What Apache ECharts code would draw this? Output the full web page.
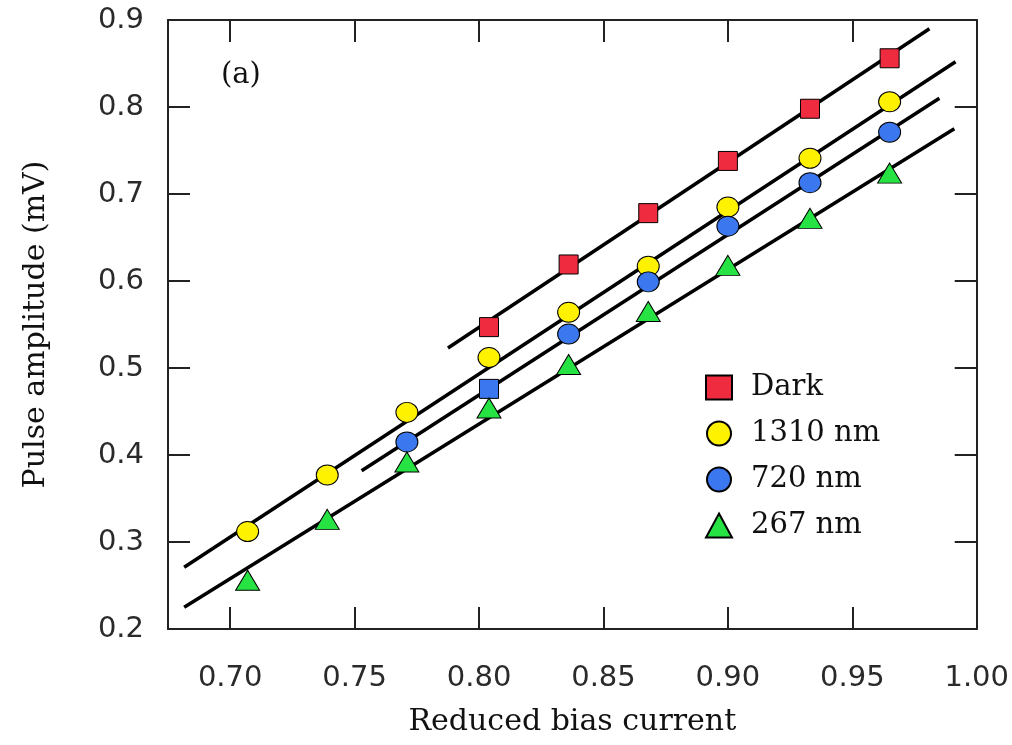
<!DOCTYPE html>
<html>
<head>
<meta charset="utf-8">
<script src="https://cdn.jsdelivr.net/npm/echarts@6/dist/echarts.min.js"></script>
<style>
html,body{margin:0;padding:0;background:#fff;}
#chart{width:1012px;height:745px;}
</style>
</head>
<body>
<div id="chart"></div>
<script>
// ---- data ----
var biasX = [0.707, 0.739, 0.771, 0.804, 0.836, 0.868, 0.900, 0.933, 0.965];
var darkY = [null, null, null, 0.547, 0.619, 0.678, 0.738, 0.798, 0.856];
var nm1310Y = [0.312, 0.377, 0.449, 0.512, 0.564, 0.617, 0.685, 0.741, 0.806];
var nm720Y = [null, null, 0.415, 0.476, 0.539, 0.599, 0.663, 0.713, 0.771];
var nm267Y = [0.256, 0.326, 0.392, 0.454, 0.504, 0.565, 0.618, 0.672, 0.724];
// fitted straight lines (end points in data units)
var fitDark = [[0.7875, 0.523], [0.981, 0.890]];
var fit1310 = [[0.6815, 0.271], [0.9915, 0.852]];
var fit720 = [[0.7528, 0.382], [0.985, 0.810]];
var fit267 = [[0.6815, 0.225], [0.991, 0.775]];
var seriesNames = ['Dark', '1310 nm', '720 nm', '267 nm'];
var xTicks = [0.70, 0.75, 0.80, 0.85, 0.90, 0.95, 1.00];
var yTicks = [0.2, 0.3, 0.4, 0.5, 0.6, 0.7, 0.8, 0.9];
var blueSquareIndex = 3; // the 720 nm point at 0.804 is drawn as a square in the reference

function pts(ys, squareIdx) {
  var out = [];
  for (var i = 0; i < biasX.length; i++) {
    if (ys[i] == null) continue;
    if (i === squareIdx) out.push({value: [biasX[i], ys[i]], symbol: 'rect', symbolSize: 19});
    else out.push([biasX[i], ys[i]]);
  }
  return out;
}

var chart = echarts.init(document.getElementById('chart'), null, {renderer: 'canvas'});
var axisCol = '#222';
var sansFont = 'DejaVu Sans';
var serifFont = 'DejaVu Serif';

function lineSeries(d) {
  return {type: 'line', data: d, xAxisIndex: 0, yAxisIndex: 0, symbol: 'none', silent: true,
    lineStyle: {color: '#000', width: 3.5}, z: 2, animation: false};
}
function scatter(name, data, symbol, size, color) {
  return {type: 'scatter', name: name, data: data, symbol: symbol, symbolSize: size,
    itemStyle: {color: color, borderColor: '#000', borderWidth: 1, opacity: 1}, z: 5, animation: false};
}

var option = {
  backgroundColor: '#fff',
  animation: false,
  grid: {left: 168, right: 35, top: 20, bottom: 116, containLabel: false},
  xAxis: [{
    type: 'value', position: 'bottom', min: 0.675, max: 1.0,
    name: 'Reduced bias current', nameLocation: 'middle', nameGap: 78,
    nameTextStyle: {fontFamily: serifFont, fontSize: 30, color: '#111'},
    axisLine: {show: true, lineStyle: {color: axisCol, width: 2}},
    axisTick: {show: true, inside: true, length: 22, customValues: xTicks, lineStyle: {color: axisCol, width: 2}},
    axisLabel: {show: true, customValues: xTicks, margin: 35, fontFamily: sansFont, fontSize: 29, color: '#2a2a2a',
      formatter: function (v) { return v.toFixed(2); }},
    splitLine: {show: false}
  }, {
    type: 'value', position: 'top', min: 0.675, max: 1.0,
    axisLine: {show: true, lineStyle: {color: axisCol, width: 2}},
    axisTick: {show: true, inside: true, length: 22, customValues: xTicks, lineStyle: {color: axisCol, width: 2}},
    axisLabel: {show: false},
    splitLine: {show: false}
  }],
  yAxis: [{
    type: 'value', position: 'left', min: 0.2, max: 0.9, interval: 0.1,
    name: 'Pulse amplitude (mV)', nameLocation: 'middle', nameGap: 117, nameRotate: 90,
    nameTextStyle: {fontFamily: serifFont, fontSize: 30, color: '#111'},
    axisLine: {show: true, lineStyle: {color: axisCol, width: 2}},
    axisTick: {show: true, inside: true, length: 22, lineStyle: {color: axisCol, width: 2}},
    axisLabel: {show: true, margin: 24, fontFamily: sansFont, fontSize: 29, color: '#2a2a2a',
      formatter: function (v) { return v.toFixed(1); }},
    splitLine: {show: false}
  }, {
    type: 'value', position: 'right', min: 0.2, max: 0.9, interval: 0.1,
    axisLine: {show: true, lineStyle: {color: axisCol, width: 2}},
    axisTick: {show: true, inside: true, length: 22, lineStyle: {color: axisCol, width: 2}},
    axisLabel: {show: false},
    splitLine: {show: false}
  }],
  legend: {
    data: seriesNames,
    orient: 'vertical', left: 700, top: 368,
    itemWidth: 26, itemHeight: 24, itemGap: 17,
    textStyle: {fontFamily: serifFont, fontSize: 29, color: '#111', padding: [0, 0, 0, 14]},
    selectedMode: false
  },
  graphic: [{
    type: 'text', left: 221, top: 61,
    style: {text: '(a)', font: '29px "DejaVu Serif"', fill: '#111'}
  }],
  series: [
    lineSeries(fitDark), lineSeries(fit1310), lineSeries(fit720), lineSeries(fit267),
    scatter(seriesNames[0], pts(darkY, -1), 'rect', 19, '#ee2b3f'),
    scatter(seriesNames[1], pts(nm1310Y, -1), 'circle', [22, 20], '#fff200'),
    scatter(seriesNames[2], pts(nm720Y, blueSquareIndex), 'circle', [22, 20], '#3b78f0'),
    scatter(seriesNames[3], pts(nm267Y, -1), 'triangle', [24, 20], '#27e243')
  ]
};
chart.setOption(option);
</script>
</body>
</html>
